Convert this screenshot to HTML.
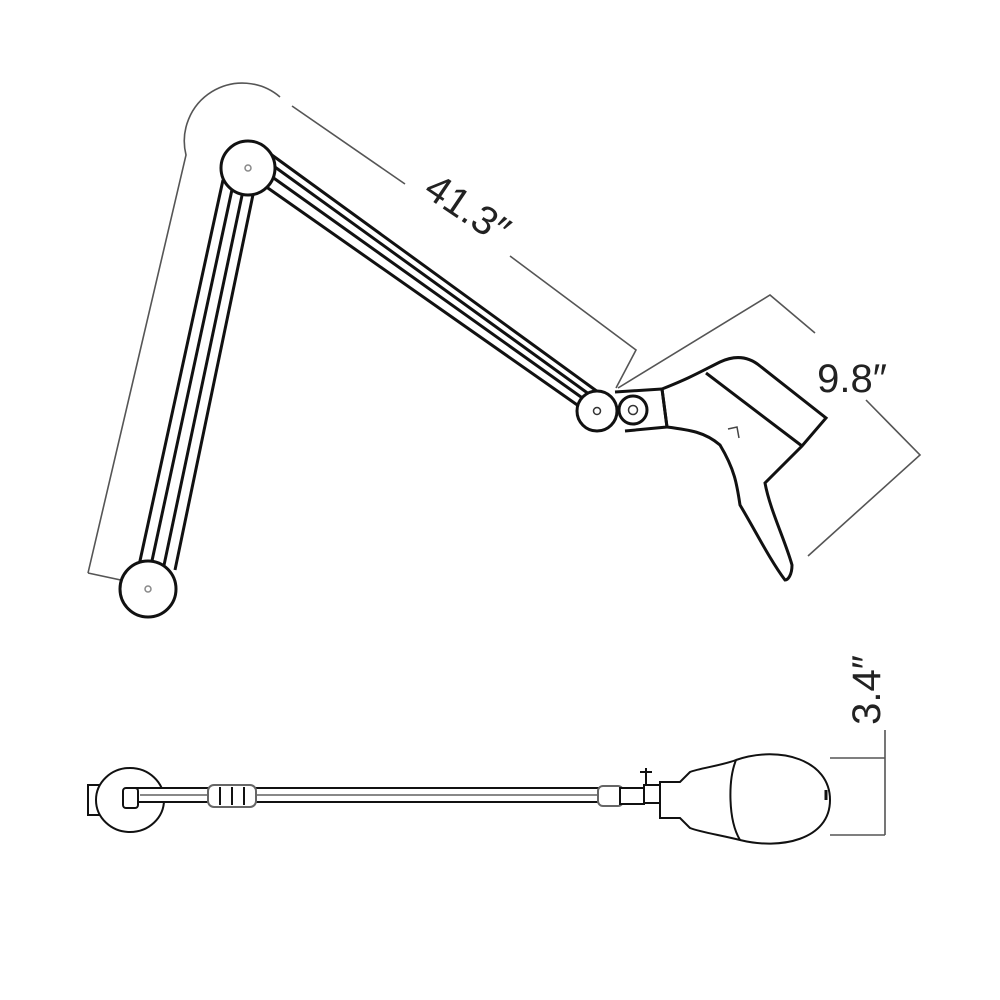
<!DOCTYPE html>
<html><head><style>body{margin:0;background:#fff}svg{display:block}</style></head>
<body>
<svg width="1000" height="1000" viewBox="0 0 1000 1000" xmlns="http://www.w3.org/2000/svg" font-family="Liberation Sans, sans-serif">
<g fill="none" stroke="#555" stroke-width="1.6">
<path d="M88,573 L186,155 A58,58 0 0 1 280,97"/>
<line x1="88" y1="573" x2="135" y2="583"/>
<path d="M292,106 L405,184"/>
<path d="M510,256 L636,350 L616,388"/>
<path d="M618,388 L770,295 L815,333"/>
<path d="M866,400 L920,455 L808,556"/>
<path d="M830,758 L885,758 M885,730 L885,835 M830,835 L885,835"/>
</g>
<text x="460" y="220" font-size="40" fill="#222" text-anchor="middle" transform="rotate(34 460 220)">41.3″</text>
<text x="852" y="392" font-size="40" fill="#222" text-anchor="middle">9.8″</text>
<text x="880" y="690" font-size="40" fill="#222" text-anchor="middle" transform="rotate(-90 880 690)">3.4″</text>
<g fill="none" stroke="#111" stroke-width="3">
<line x1="223" y1="180" x2="138" y2="570"/>
<line x1="233" y1="185" x2="150" y2="570"/>
<line x1="244" y1="186" x2="163" y2="570"/>
<line x1="255" y1="185" x2="175" y2="570"/>
<line x1="265" y1="150" x2="598" y2="392"/>
<line x1="268" y1="162" x2="593" y2="397"/>
<line x1="268" y1="174" x2="588" y2="402"/>
<line x1="265" y1="186" x2="583" y2="409"/>
<circle cx="248" cy="168" r="27" fill="#fff"/>
<circle cx="148" cy="589" r="28" fill="#fff"/>
<path d="M662,389 C690,378 700,372 720,362 C735,355 748,356 760,366 L826,418 L802,446 L765,483 C770,510 785,540 792,565 C792,575 788,580 785,580 C770,560 755,530 740,505 C737,485 735,470 720,445 C705,432 690,430 667,427 Z" fill="#fff"/>
<line x1="706" y1="373" x2="802" y2="446"/>
<path d="M662,389 L667,427 L625,431"/>
<path d="M662,389 L615,392"/>
<circle cx="597" cy="411" r="20" fill="#fff"/>
<circle cx="633" cy="410" r="14" fill="#fff"/>
</g>
<g fill="none" stroke="#888" stroke-width="1.5">
<circle cx="248" cy="168" r="3"/><circle cx="148" cy="589" r="3"/>
<circle cx="597" cy="411" r="3.5" stroke="#333"/><circle cx="633" cy="410" r="4.5" stroke="#333"/>
<path d="M728,429 L737,427 L739,438" stroke="#444"/>
</g>
<g fill="none" stroke="#111" stroke-width="2">
<rect x="88" y="785" width="12" height="30" fill="#fff"/>
<ellipse cx="130" cy="800" rx="34" ry="32" fill="#fff"/>
<rect x="125" y="788" width="515" height="14" rx="3" fill="#fff"/>
<line x1="140" y1="795" x2="620" y2="795" stroke-width="1"/>
<rect x="208" y="785" width="48" height="22" rx="6" fill="#fff" stroke="#666"/>
<line x1="220" y1="787" x2="220" y2="805"/><line x1="232" y1="787" x2="232" y2="805"/><line x1="244" y1="787" x2="244" y2="805"/>
<rect x="123" y="788" width="15" height="20" rx="3" fill="#fff"/>
<rect x="598" y="786" width="25" height="20" rx="5" fill="#fff" stroke="#666"/>
<rect x="620" y="788" width="24" height="16" fill="#fff"/>
<path d="M640,772 L652,772 M646,768 L646,785" />
<rect x="644" y="785" width="16" height="18" fill="#fff"/>
<path d="M660,782 L680,782 L690,772 C700,768 720,766 736,760 C780,745 830,760 830,800 C830,840 780,850 740,840 C720,835 700,832 690,828 L680,818 L660,818 Z" fill="#fff"/>
<path d="M736,760 C728,780 728,820 740,840"/>
<path d="M826,790 L826,800" stroke-width="3"/>
</g>
</svg>
</body></html>
